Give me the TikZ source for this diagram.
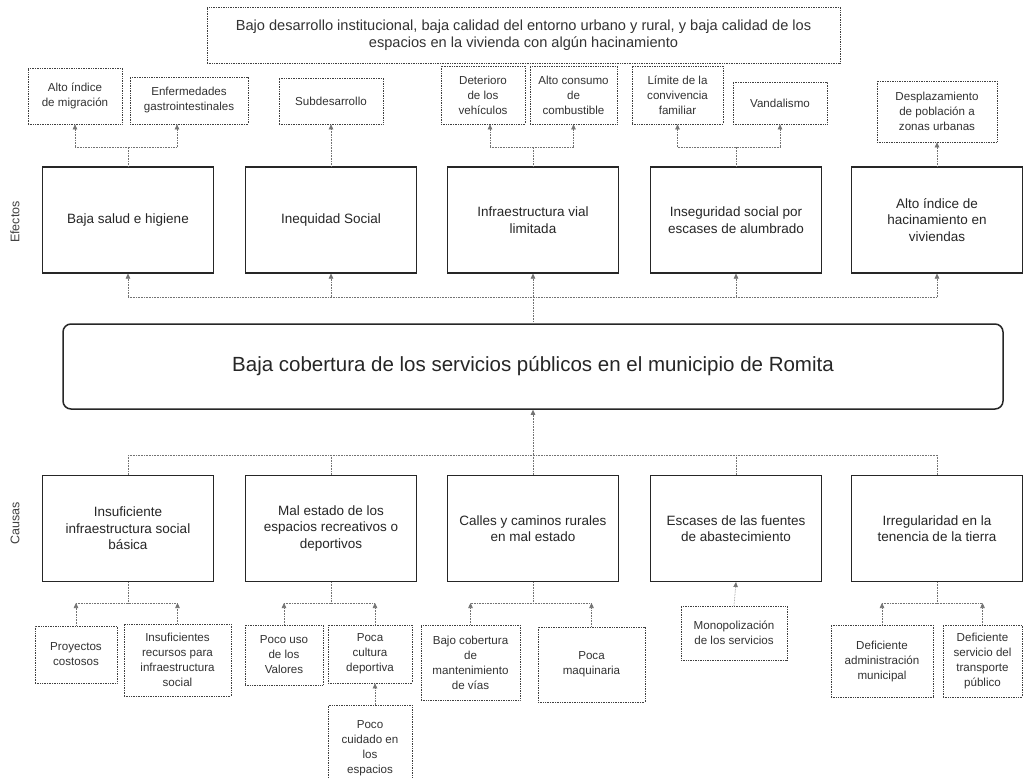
\documentclass[tikz,border=0pt]{standalone}
\usepackage{fontspec}
\setmainfont{Liberation Sans}
\usetikzlibrary{arrows.meta}
\tikzset{
  mainbox/.style={draw=black!85, line width=1.1pt, minimum width=171pt, minimum height=106pt, align=center, inner sep=2pt, text=black!85, font=\fontsize{13.5}{16.5}\selectfont},
  subbox/.style={draw=black!75, line width=0.7pt, densely dotted, align=center, inner sep=1pt, text=black!80, font=\fontsize{11.6}{15}\selectfont},
  conn/.style={draw=black!55, line width=0.6pt, densely dotted},
  arr/.style={conn, -{Triangle[width=4.5pt,length=5pt]}},
  sidelabel/.style={rotate=90, text=black!75, font=\fontsize{12.5}{14}\selectfont}
}
\begin{document}
\begin{tikzpicture}[x=1pt,y=-1pt]
\clip (0,0) rectangle (1024,778);
\fill[white] (0,0) rectangle (1024,778);

% top box
\node[subbox, minimum width=633pt, minimum height=56pt, font=\fontsize{14.6}{17.5}\selectfont] (top) at (523.5,35) {Bajo desarrollo institucional, baja calidad del entorno urbano y rural, y baja calidad de los\\espacios en la vivienda con algún hacinamiento};

% effect sub-boxes
\node[subbox, minimum width=94pt, minimum height=56pt] (s11) at (75,96) {Alto índice\\de migración};
\node[subbox, minimum width=118pt, minimum height=47pt] (s12) at (189,100.5) {Enfermedades\\gastrointestinales};
\node[subbox, minimum width=104pt, minimum height=46pt] (s21) at (331,101) {Subdesarrollo};
\node[subbox, minimum width=84pt, minimum height=58pt] (s31) at (483,95) {Deterioro\\de los\\vehículos};
\node[subbox, minimum width=87pt, minimum height=58pt] (s32) at (573.5,95) {Alto consumo\\de\\combustible};
\node[subbox, minimum width=91pt, minimum height=58pt] (s41) at (677.5,95) {Límite de la\\convivencia\\familiar};
\node[subbox, minimum width=94pt, minimum height=42pt] (s42) at (780,103) {Vandalismo};
\node[subbox, minimum width=120pt, minimum height=61pt] (s51) at (937,111.5) {Desplazamiento\\de población a\\zonas urbanas};

% effects
\node[mainbox] (e1) at (128,220) {Baja salud e higiene};
\node[mainbox] (e2) at (331,220) {Inequidad Social};
\node[mainbox] (e3) at (533,220) {Infraestructura vial\\limitada};
\node[mainbox] (e4) at (736,220) {Inseguridad social por\\escases de alumbrado};
\node[mainbox] (e5) at (937,220) {Alto índice de\\hacinamiento en\\viviendas};

% central problem
\node[draw=black!85, line width=1.5pt, rounded corners=8pt, minimum width=940pt, minimum height=85pt, text=black!85, font=\fontsize{20.5}{24}\selectfont] (c) at (533,366.5) {Baja cobertura de los servicios públicos en el municipio de Romita};

% causes
\node[mainbox] (c1) at (128,528.5) {Insuficiente\\infraestructura social\\básica};
\node[mainbox] (c2) at (331,528.5) {Mal estado de los\\espacios recreativos o\\deportivos};
\node[mainbox] (c3) at (533,528.5) {Calles y caminos rurales\\en mal estado};
\node[mainbox] (c4) at (736,528.5) {Escases de las fuentes\\de abastecimiento};
\node[mainbox] (c5) at (937,528.5) {Irregularidad en la\\tenencia de la tierra};

% cause sub-boxes
\node[subbox, minimum width=82pt, minimum height=57pt] (p11) at (76,654.5) {Proyectos\\costosos};
\node[subbox, minimum width=107pt, minimum height=72pt] (p12) at (177.5,660) {Insuficientes\\recursos para\\infraestructura\\social};
\node[subbox, minimum width=78pt, minimum height=60pt] (p21) at (284,655) {Poco uso\\de los\\Valores};
\node[subbox, minimum width=84pt, minimum height=58pt] (p22) at (370,654) {Poca\\cultura\\deportiva};
\node[subbox, minimum width=84pt, minimum height=85pt, anchor=north] (p23) at (370,705) {Poco\\cuidado en\\los\\espacios};
\node[subbox, minimum width=99pt, minimum height=75pt] (p31) at (470.5,662.5) {Bajo cobertura\\de\\mantenimiento\\de vías};
\node[subbox, minimum width=107pt, minimum height=75pt] (p32) at (591.5,664.5) {Poca\\maquinaria};
\node[subbox, minimum width=106pt, minimum height=54pt] (p41) at (734,633) {Monopolización\\de los servicios};
\node[subbox, minimum width=102pt, minimum height=72pt] (p51) at (882,661) {Deficiente\\administración\\municipal};
\node[subbox, minimum width=79pt, minimum height=72pt] (p52) at (982.5,661) {Deficiente\\servicio del\\transporte\\público};

% side labels
\node[sidelabel] (lef) at (15,222) {Efectos};
\node[sidelabel] (lca) at (15,523) {Causas};

% helper coordinates
\coordinate (eb) at (0,147);
\coordinate (lb) at (0,297);
\coordinate (cb) at (0,455);
\coordinate (pb) at (0,603);
\coordinate (s12a) at ([xshift=-12pt]s12.south);
\coordinate (s31a) at ([xshift=7pt]s31.south);
\coordinate (p22a) at ([xshift=5pt]p22.north);
\coordinate (p22b) at ([xshift=5pt]p22.south);
\coordinate (p23a) at ([xshift=5pt]p23.north);

% effects -> sub-effects
\draw[conn] (e1.north) -- (e1.north |- eb);
\draw[conn] (s11.south |- eb) -- (s12a |- eb);
\draw[arr] (s11.south |- eb) -- (s11.south);
\draw[arr] (s12a |- eb) -- (s12a);
\draw[arr] (e2.north) -- (s21.south);
\draw[conn] (e3.north) -- (e3.north |- eb);
\draw[conn] (s31a |- eb) -- (s32.south |- eb);
\draw[arr] (s31a |- eb) -- (s31a);
\draw[arr] (s32.south |- eb) -- (s32.south);
\draw[conn] (e4.north) -- (e4.north |- eb);
\draw[conn] (s41.south |- eb) -- (s42.south |- eb);
\draw[arr] (s41.south |- eb) -- (s41.south);
\draw[arr] (s42.south |- eb) -- (s42.south);
\draw[arr] (e5.north) -- (s51.south);

% central -> effects
\draw[conn] (c.north) -- (c.north |- lb);
\draw[conn] (e1.south |- lb) -- (e5.south |- lb);
\foreach \n in {e1,e2,e3,e4,e5}{\draw[arr] (\n.south |- lb) -- (\n.south);}

% causes -> central
\draw[arr] (c3.north |- cb) -- (c.south);
\draw[conn] (c1.north |- cb) -- (c5.north |- cb);
\foreach \n in {c1,c2,c3,c4,c5}{\draw[conn] (\n.north |- cb) -- (\n.north);}

% sub-causes -> causes
\draw[conn] (c1.south) -- (c1.south |- pb);
\draw[conn] (p11.north |- pb) -- (p12.north |- pb);
\draw[arr] (p11.north) -- (p11.north |- pb);
\draw[arr] (p12.north) -- (p12.north |- pb);
\draw[conn] (c2.south) -- (c2.south |- pb);
\draw[conn] (p21.north |- pb) -- (p22a |- pb);
\draw[arr] (p21.north) -- (p21.north |- pb);
\draw[arr] (p22a) -- (p22a |- pb);
\draw[arr] (p23a) -- (p22b);
\draw[conn] (c3.south) -- (c3.south |- pb);
\draw[conn] (p31.north |- pb) -- (p32.north |- pb);
\draw[arr] (p31.north) -- (p31.north |- pb);
\draw[arr] (p32.north) -- (p32.north |- pb);
\draw[arr] (p41.north) -- (c4.south);
\draw[conn] (c5.south) -- (c5.south |- pb);
\draw[conn] (p51.north |- pb) -- (p52.north |- pb);
\draw[arr] (p51.north) -- (p51.north |- pb);
\draw[arr] (p52.north) -- (p52.north |- pb);
\end{tikzpicture}
\end{document}
